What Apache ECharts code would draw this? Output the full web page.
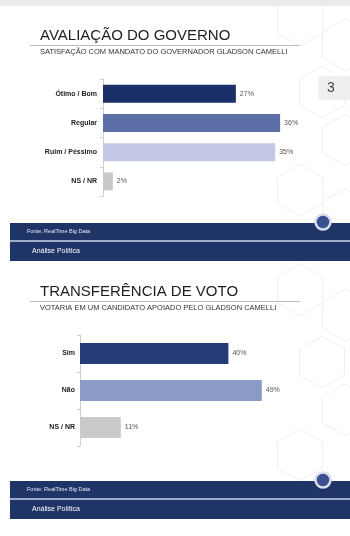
<!DOCTYPE html>
<html lang="pt">
<head>
    <meta charset="utf-8"/>
    <title>Avaliação do Governo</title>
    <style>
        html, body { margin: 0; padding: 0; background: #fff; }
        #chart { width: 350px; height: 536px; }
    </style>
</head>
<body>
<div id="chart"></div>

<script type="text/javascript" src="https://cdn.jsdelivr.net/npm/echarts@6/dist/echarts.min.js"></script>
<script type="text/javascript">
    // slide 1
    var govTitle = 'AVALIAÇÃO DO GOVERNO';
    var govSubtitle = 'SATISFAÇÃO COM MANDATO DO GOVERNADOR GLADSON CAMELLI';
    var govCategories = ['Ótimo / Bom', 'Regular', 'Ruim / Péssimo', 'NS / NR'];
    var govValues = [27, 36, 35, 2];
    var govColors = ['#1b2f68', '#5b6ea6', '#c3c8e5', '#c9c9c9'];

    // slide 2
    var votoTitle = 'TRANSFERÊNCIA DE VOTO';
    var votoSubtitle = 'VOTARIA EM UM CANDIDATO APOIADO PELO GLADSON CAMELLI';
    var votoCategories = ['Sim', 'Não', 'NS / NR'];
    var votoValues = [40, 49, 11];
    var votoColors = ['#263c78', '#8a9bc5', '#cacaca'];

    var fonte = 'Fonte: RealTime Big Data';
    var rodape = 'Análise Política';
    var pagina = '3';

    var FONT = '"Liberation Sans", Arial, sans-serif';
    var NAVY = '#1f3467';

    var chart = echarts.init(document.getElementById('chart'));

    function withColors(values, colors) {
        return values.map(function (v, i) {
            return {value: v, itemStyle: {color: colors[i]}};
        });
    }

    function hex(cx, cy, r) {
        var pts = [];
        for (var i = 0; i < 6; i++) {
            var a = Math.PI / 3 * i + Math.PI / 6;
            pts.push([cx + r * Math.cos(a), cy + r * Math.sin(a)]);
        }
        return {
            type: 'polygon', silent: true, z: -10,
            shape: {points: pts},
            style: {fill: 'none', stroke: '#e9ebee', lineWidth: 0.8}
        };
    }

    // fundo hexagonal, bem claro
    var fundo = [
        hex(300, 20, 26), hex(345, 45, 26), hex(322, 92, 26), hex(345, 140, 26),
        hex(300, 190, 26), hex(345, 215, 26),
        hex(300, 290, 26), hex(345, 315, 26), hex(322, 362, 26), hex(345, 410, 26),
        hex(300, 455, 26)
    ];

    function rodapeGraphic(y) {
        return [
            {type: 'rect', shape: {x: 10, y: y, width: 340, height: 17}, style: {fill: NAVY}},
            {type: 'rect', shape: {x: 10, y: y + 17, width: 340, height: 2}, style: {fill: '#9fabc9'}},
            {type: 'rect', shape: {x: 10, y: y + 19, width: 340, height: 19}, style: {fill: NAVY}},
            {type: 'text', style: {x: 27, y: y + 8.5, text: fonte, fill: '#e8ecf5',
                    font: '5.5px ' + FONT, verticalAlign: 'middle'}},
            {type: 'text', style: {x: 32, y: y + 28.5, text: rodape, fill: '#ffffff',
                    font: '7px ' + FONT, verticalAlign: 'middle'}},
            {type: 'circle', shape: {cx: 323, cy: y - 1, r: 7.5},
                style: {fill: '#3a5190', stroke: '#d8deec', lineWidth: 2.5}}
        ];
    }

    // titulo, linha e subtitulo; y = posicao da linha
    function cabecalho(title, subtitle, y) {
        return [
            {type: 'text', style: {x: 40, y: y - 2, text: title, fill: '#1e1e1e',
                    font: '15px ' + FONT, verticalAlign: 'bottom'}},
            {type: 'line', shape: {x1: 30, y1: y + 0.5, x2: 300, y2: y + 0.5},
                style: {stroke: '#bdbdbd', lineWidth: 1}},
            {type: 'text', style: {x: 40, y: y + 7, text: subtitle, fill: '#333',
                    font: '7.5px ' + FONT, verticalAlign: 'middle'}}
        ];
    }

    var graphics = [
        {type: 'rect', shape: {x: 0, y: 0, width: 350, height: 6}, style: {fill: '#ebebeb'}}
    ].concat(fundo)
        .concat(cabecalho(govTitle, govSubtitle, 45))
        .concat(cabecalho(votoTitle, votoSubtitle, 301))
        .concat([
            {type: 'rect', shape: {x: 318, y: 76, width: 40, height: 24, r: 5}, style: {fill: '#efefef'}},
            {type: 'text', style: {x: 331, y: 88, text: pagina, fill: '#444',
                    font: '14px ' + FONT, verticalAlign: 'middle', align: 'center'}}
        ])
        .concat(rodapeGraphic(223))
        .concat(rodapeGraphic(481));

    function yAxisFor(cats, idx, margin) {
        return {
            type: 'category', gridIndex: idx, data: cats, inverse: true,
            axisLine: {lineStyle: {color: '#cfcfcf'}},
            axisTick: {show: true, length: 3, lineStyle: {color: '#cfcfcf'}},
            axisLabel: {fontFamily: FONT, fontSize: 7, fontWeight: 'bold', color: '#222', margin: margin}
        };
    }

    function xAxisFor(idx) {
        return {
            type: 'value', gridIndex: idx, min: 0, max: 50, show: false,
            splitLine: {show: false}
        };
    }

    function serieFor(values, colors, idx, width) {
        return {
            type: 'bar', xAxisIndex: idx, yAxisIndex: idx,
            data: withColors(values, colors),
            barWidth: width,
            label: {
                show: true, position: 'right', distance: 4, formatter: '{c}%',
                fontFamily: FONT, fontSize: 7, color: '#555'
            }
        };
    }

    chart.setOption({
        animation: false,
        graphic: graphics,
        grid: [
            {left: 103, top: 79, width: 246, height: 117},
            {left: 80, top: 335, width: 185.5, height: 111}
        ],
        xAxis: [xAxisFor(0), xAxisFor(1)],
        yAxis: [yAxisFor(govCategories, 0, 6), yAxisFor(votoCategories, 1, 5)],
        series: [
            serieFor(govValues, govColors, 0, 18),
            serieFor(votoValues, votoColors, 1, 21)
        ]
    });
</script>
</body>
</html>
